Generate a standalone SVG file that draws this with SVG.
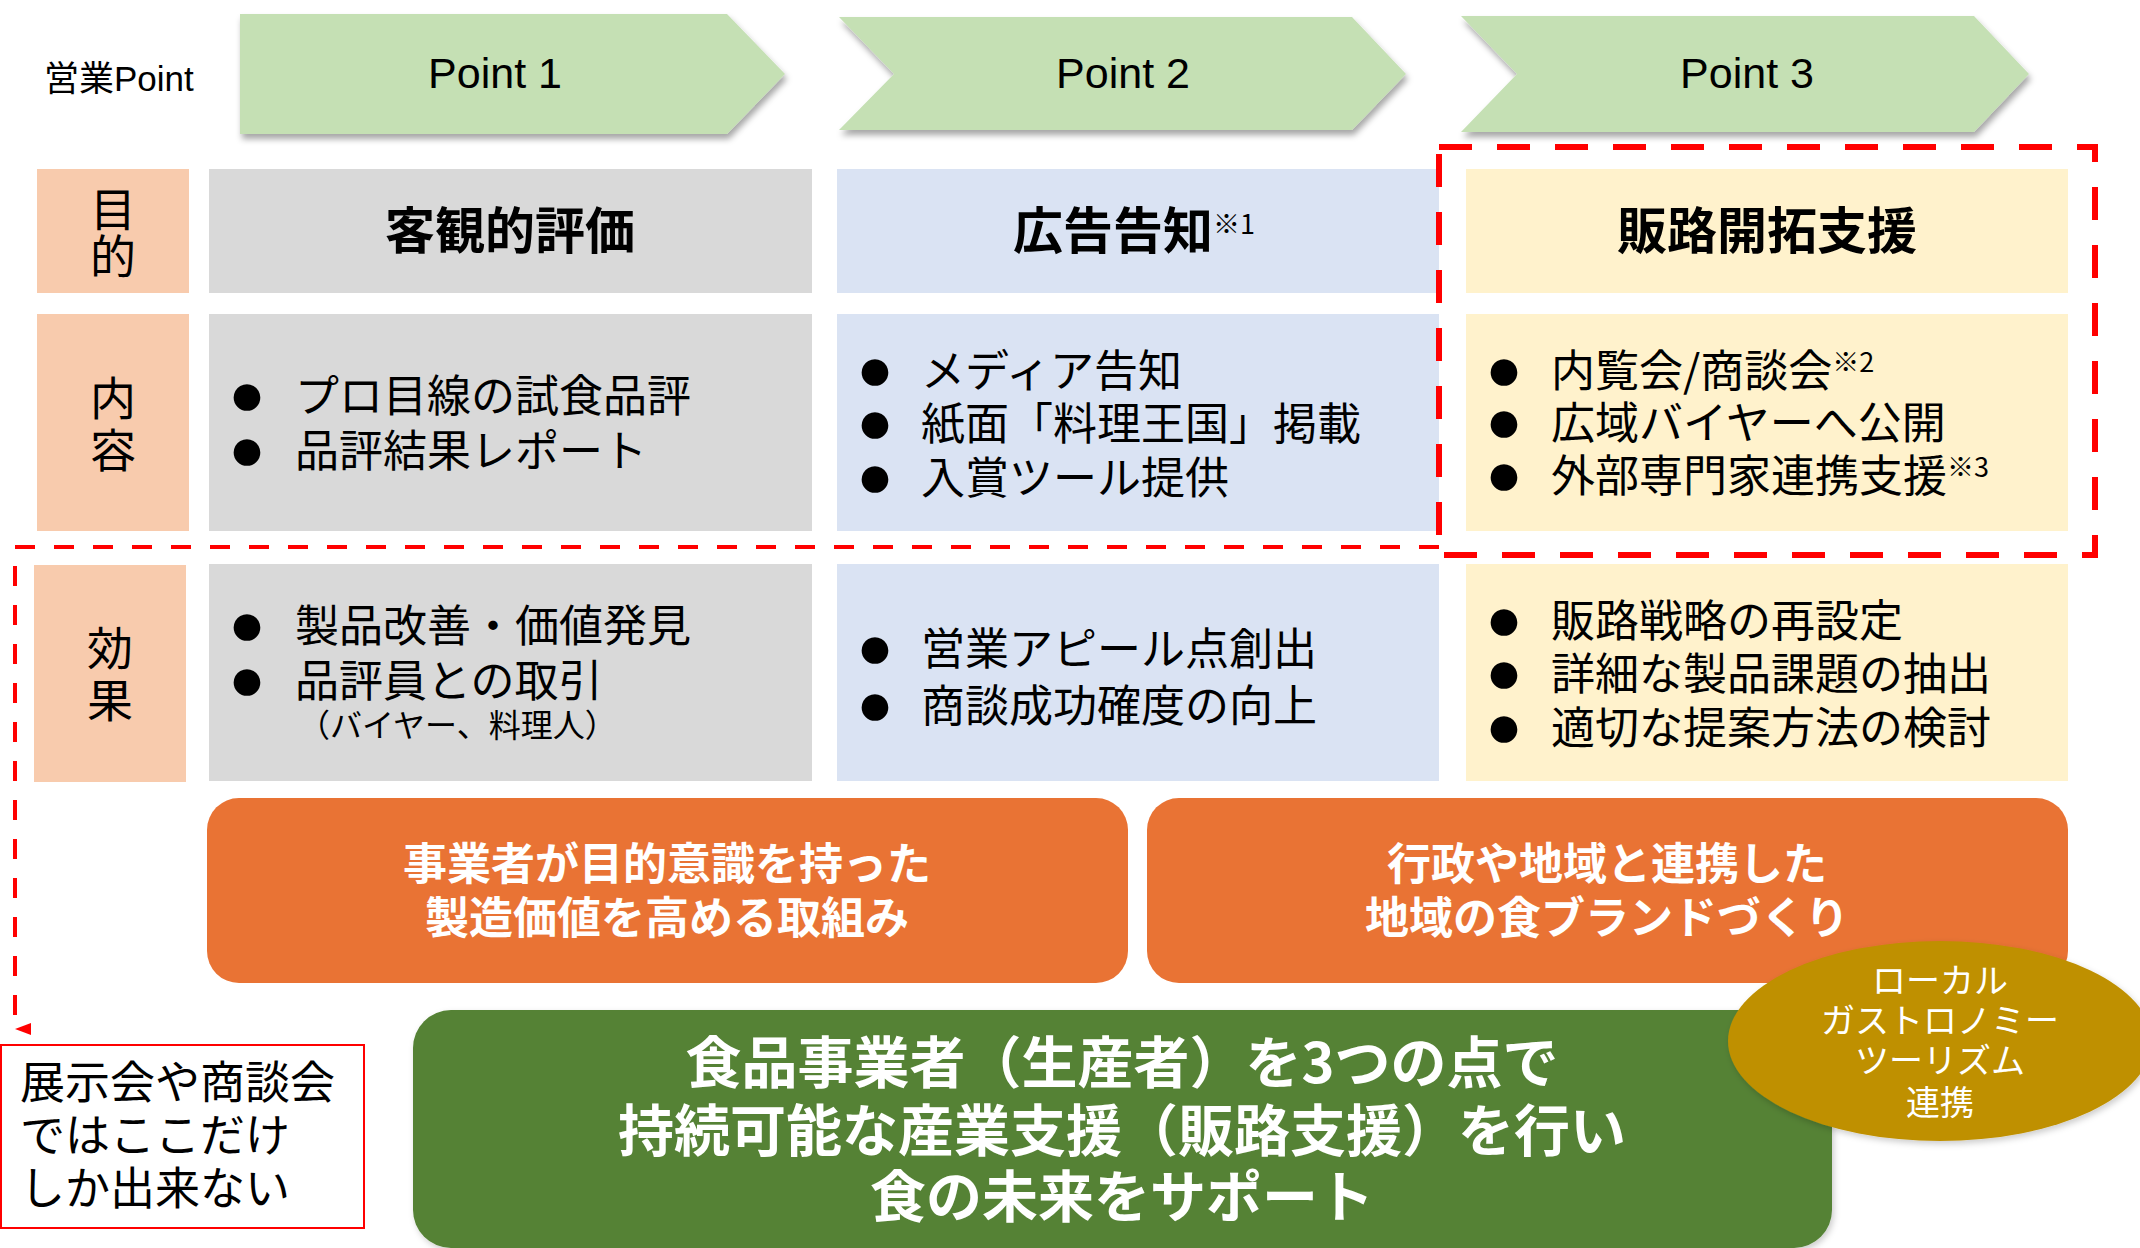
<svg xmlns="http://www.w3.org/2000/svg" width="2140" height="1248" viewBox="0 0 2140 1248">
<style>
.lbl{fill:#F8CBAD}
.c1{fill:#D9D9D9}
.c2{fill:#DAE3F3}
.c3{fill:#FFF2CC}
.arw{fill:#C5E0B4;filter:url(#sh)}
.t{font-family:"Noto Sans CJK JP","Noto Sans",sans-serif;fill:#000}
.lt{font-family:"Liberation Sans","Noto Sans CJK JP",sans-serif;fill:#000}
.li{font-size:44px}
.lab{font-size:46px;text-anchor:middle}
.hd{font-size:50px;font-weight:700;text-anchor:middle}
.pt{font-size:43px;text-anchor:middle}
.bul{font-family:"Liberation Sans","DejaVu Sans",sans-serif;font-size:62px;text-anchor:middle;fill:#000}
.sup{font-size:27px}
.wt{font-family:"Noto Sans CJK JP","Noto Sans",sans-serif;fill:#fff;text-anchor:middle}
.dash1{fill:none;stroke:#FF0000;stroke-width:6;stroke-dasharray:33 25}
.dash2{fill:none;stroke:#FF0000;stroke-width:4;stroke-dasharray:20 19}
</style>
<defs>
<filter id="sh" x="-10%" y="-20%" width="130%" height="150%">
<feDropShadow dx="2" dy="5" stdDeviation="3" flood-color="#000" flood-opacity="0.35"/>
</filter>
<filter id="sh2" x="-10%" y="-20%" width="130%" height="150%">
<feDropShadow dx="2" dy="3" stdDeviation="3" flood-color="#000" flood-opacity="0.2"/>
</filter>
<marker id="ah" markerUnits="userSpaceOnUse" markerWidth="14" markerHeight="18" refX="7" refY="16" orient="auto-start-reverse" viewBox="0 0 14 18">
<path d="M1,0 L13,0 L7,16 Z" fill="#FF0000"/>
</marker>
</defs>
<rect width="2140" height="1248" fill="#fff"/>

<g id="header-label"><text class="lt" x="44" y="91" font-size="35">営業Point</text></g>

<g id="point1">
<polygon class="arw" points="240,14 727,14 785,74 727,134 240,134"/>
<text class="lt pt" x="495" y="88">Point 1</text>
</g>
<g id="point2">
<polygon class="arw" points="839,17 1352,17 1406,74 1352,130 839,130 894,74"/>
<text class="lt pt" x="1123" y="88">Point 2</text>
</g>
<g id="point3">
<polygon class="arw" points="1461,16 1974,16 2029,74 1974,132 1461,132 1517,74"/>
<text class="lt pt" x="1747" y="88">Point 3</text>
</g>

<g id="label-mokuteki">
<rect class="lbl" x="37" y="169" width="152" height="124"/>
<text class="t lab" x="113" y="226">目</text>
<text class="t lab" x="113" y="273">的</text>
</g>
<g id="label-naiyou">
<rect class="lbl" x="37" y="314" width="152" height="217"/>
<text class="t lab" x="113" y="415">内</text>
<text class="t lab" x="113" y="467">容</text>
</g>
<g id="label-kouka">
<rect class="lbl" x="34" y="565" width="152" height="217"/>
<text class="t lab" x="110" y="665">効</text>
<text class="t lab" x="110" y="717">果</text>
</g>

<g id="p1-purpose">
<rect class="c1" x="209" y="169" width="603" height="124"/>
<text class="t hd" x="510" y="249">客観的評価</text>
</g>
<g id="p2-purpose">
<rect class="c2" x="837" y="169" width="602" height="124"/>
<text class="t hd" x="1134" y="249">広告告知<tspan class="sup" font-weight="400" dy="-15">※1</tspan></text>
</g>
<g id="p3-purpose">
<rect class="c3" x="1466" y="169" width="602" height="124"/>
<text class="t hd" x="1767" y="249">販路開拓支援</text>
</g>

<g id="p1-content">
<rect class="c1" x="209" y="314" width="603" height="217"/>
<text class="bul" x="247" y="415">●</text>
<text class="bul" x="247" y="470">●</text>
<text class="t li" x="295" y="412">プロ目線の試食品評</text>
<text class="t li" x="295" y="467">品評結果レポート</text>
</g>
<g id="p2-content">
<rect class="c2" x="837" y="314" width="602" height="217"/>
<text class="bul" x="875" y="390">●</text>
<text class="bul" x="875" y="443">●</text>
<text class="bul" x="875" y="497">●</text>
<text class="t li" x="921" y="387">メディア告知</text>
<text class="t li" x="921" y="440">紙面「料理王国」掲載</text>
<text class="t li" x="921" y="494">入賞ツール提供</text>
</g>
<g id="p3-content">
<rect class="c3" x="1466" y="314" width="602" height="217"/>
<text class="bul" x="1504" y="390">●</text>
<text class="bul" x="1504" y="442">●</text>
<text class="bul" x="1504" y="495">●</text>
<text class="t li" x="1551" y="387">内覧会/商談会<tspan class="sup" dy="-15">※2</tspan></text>
<text class="t li" x="1551" y="439">広域バイヤーへ公開</text>
<text class="t li" x="1551" y="492">外部専門家連携支援<tspan class="sup" dy="-15">※3</tspan></text>
</g>

<g id="p1-effect">
<rect class="c1" x="209" y="564" width="603" height="217"/>
<text class="bul" x="247" y="645">●</text>
<text class="bul" x="247" y="700">●</text>
<text class="t li" x="295" y="642">製品改善・価値発見</text>
<text class="t li" x="295" y="697">品評員との取引</text>
<text class="t" x="298" y="737" font-size="32">（バイヤー、料理人）</text>
</g>
<g id="p2-effect">
<rect class="c2" x="837" y="564" width="602" height="217"/>
<text class="bul" x="875" y="668">●</text>
<text class="bul" x="875" y="725">●</text>
<text class="t li" x="921" y="665">営業アピール点創出</text>
<text class="t li" x="921" y="722">商談成功確度の向上</text>
</g>
<g id="p3-effect">
<rect class="c3" x="1466" y="564" width="602" height="217"/>
<text class="bul" x="1504" y="640">●</text>
<text class="bul" x="1504" y="693">●</text>
<text class="bul" x="1504" y="747">●</text>
<text class="t li" x="1551" y="637">販路戦略の再設定</text>
<text class="t li" x="1551" y="690">詳細な製品課題の抽出</text>
<text class="t li" x="1551" y="744">適切な提案方法の検討</text>
</g>

<g id="connectors">
<path class="dash1" d="M1439,147 H2095 V555 H1439 Z"/>
<path class="dash2" d="M1439,547 H15 V1029" marker-end="url(#ah)"/>
</g>

<g id="orange-left">
<rect x="207" y="798" width="921" height="185" rx="32" fill="#E97334"/>
<text class="wt" x="667" y="880" font-size="44" font-weight="700">事業者が目的意識を持った</text>
<text class="wt" x="667" y="934" font-size="44" font-weight="700">製造価値を高める取組み</text>
</g>
<g id="orange-right">
<rect x="1147" y="798" width="921" height="185" rx="32" fill="#E97334"/>
<text class="wt" x="1607" y="880" font-size="44" font-weight="700">行政や地域と連携した</text>
<text class="wt" x="1607" y="934" font-size="44" font-weight="700">地域の食ブランドづくり</text>
</g>

<g id="note-box">
<rect x="1" y="1045" width="363" height="183" fill="#fff" stroke="#FF0000" stroke-width="2"/>
<text class="t" x="20" y="1099" font-size="45">展示会や商談会</text>
<text class="t" x="20" y="1152" font-size="45">ではここだけ</text>
<text class="t" x="20" y="1205" font-size="45">しか出来ない</text>
</g>

<g id="green-main">
<rect x="413" y="1010" width="1419" height="238" rx="38" fill="#548235" filter="url(#sh2)"/>
<text class="wt" x="1122" y="1083" font-size="56" font-weight="700">食品事業者（生産者）を3つの点で</text>
<text class="wt" x="1122" y="1151" font-size="56" font-weight="700">持続可能な産業支援（販路支援）を行い</text>
<text class="wt" x="1122" y="1217" font-size="56" font-weight="700">食の未来をサポート</text>
</g>

<g id="gastronomy">
<ellipse cx="1940" cy="1041" rx="212" ry="100" fill="#BF9000" filter="url(#sh2)"/>
<text class="wt" x="1940" y="993" font-size="34">ローカル</text>
<text class="wt" x="1940" y="1033" font-size="34">ガストロノミー</text>
<text class="wt" x="1940" y="1073" font-size="34">ツーリズム</text>
<text class="wt" x="1940" y="1115" font-size="34">連携</text>
</g>
</svg>
